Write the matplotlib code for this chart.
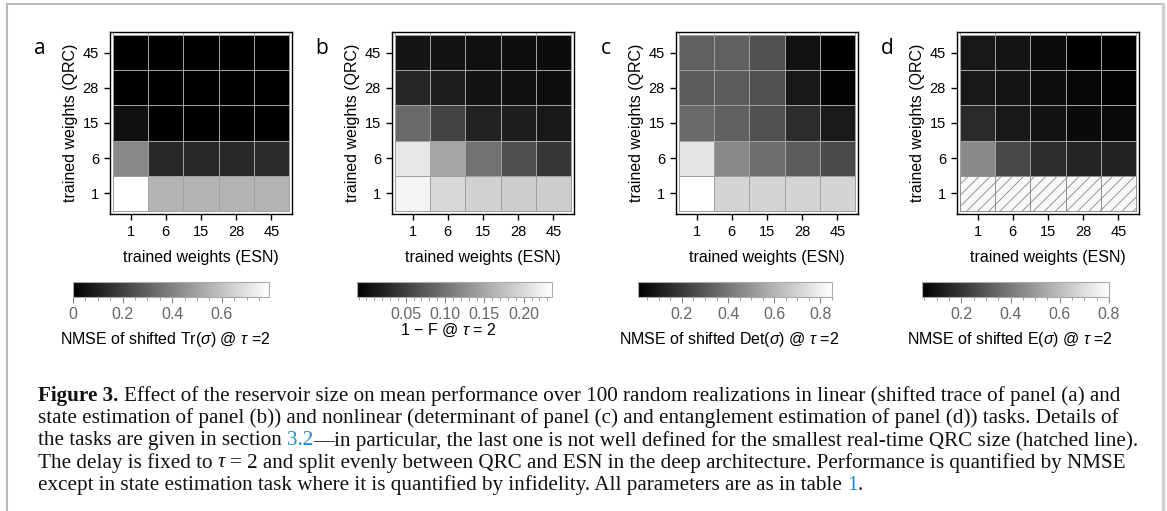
import numpy as np
import matplotlib.pyplot as plt
from matplotlib.patches import Rectangle
from matplotlib.lines import Line2D
from matplotlib.ticker import MultipleLocator

plt.rcParams['font.family'] = ['Liberation Sans', 'DejaVu Sans']
plt.rcParams['mathtext.fontset'] = 'custom'
plt.rcParams['mathtext.rm'] = 'Liberation Sans'
plt.rcParams['mathtext.it'] = 'Liberation Sans:italic'
plt.rcParams['hatch.linewidth'] = 0.6

W, H = 1167, 511

# reservoir sizes (trained weights), same for QRC (rows) and ESN (columns)
sizes = [1, 6, 15, 28, 45]

# rows: QRC = 1, 6, 15, 28, 45 (bottom to top); columns: ESN = 1 ... 45
trace_nmse = [
    [0.79, 0.558, 0.558, 0.558, 0.558],
    [0.42, 0.124, 0.124, 0.124, 0.13],
    [0.05, 0.006, 0.006, 0.006, 0.006],
    [0.005, 0.004, 0.004, 0.004, 0.004],
    [0.004, 0.004, 0.004, 0.003, 0.003],
]
infidelity = [
    [0.225, 0.198, 0.191, 0.187, 0.187],
    [0.212, 0.150, 0.099, 0.065, 0.042],
    [0.090, 0.053, 0.021, 0.018, 0.012],
    [0.025, 0.018, 0.007, 0.004, 0.002],
    [0.009, 0.007, 0.004, 0.002, 0.0],
]
det_nmse = [
    [0.85, 0.708, 0.708, 0.708, 0.708],
    [0.761, 0.458, 0.372, 0.313, 0.254],
    [0.359, 0.326, 0.274, 0.155, 0.096],
    [0.313, 0.313, 0.274, 0.089, 0.023],
    [0.326, 0.326, 0.274, 0.069, 0.01],
]
ent_nmse = [
    [np.nan, np.nan, np.nan, np.nan, np.nan],
    [0.451, 0.255, 0.171, 0.147, 0.141],
    [0.165, 0.112, 0.094, 0.070, 0.064],
    [0.112, 0.100, 0.082, 0.058, 0.046],
    [0.112, 0.100, 0.076, 0.04, 0.04],
]

panel_data = [trace_nmse, infidelity, det_nmse, ent_nmse]
panel_letters = ['a', 'b', 'c', 'd']
cbar_range = [(0.0, 0.79), (-0.012, 0.236), (0.01, 0.85), (0.04, 0.80)]
cbar_ticks = [[0, 0.2, 0.4, 0.6], [0.05, 0.10, 0.15, 0.20],
              [0.2, 0.4, 0.6, 0.8], [0.2, 0.4, 0.6, 0.8]]
cbar_ticklabels = [['0', '0.2', '0.4', '0.6'], ['0.05', '0.10', '0.15', '0.20'],
                   ['0.2', '0.4', '0.6', '0.8'], ['0.2', '0.4', '0.6', '0.8']]
cbar_minor = [0.05, 0.01, 0.05, 0.05]
cbar_labels = [r'NMSE of shifted Tr($\sigma$) @ $\tau$ =2',
               r'1 − F @ $\tau$ = 2',
               r'NMSE of shifted Det($\sigma$) @ $\tau$ =2',
               r'NMSE of shifted E($\sigma$) @ $\tau$ =2']

# layout in pixels
ax_left = [110, 392, 676, 957]
ax_top, ax_size = 32, 182
cb_left = [73, 357, 638, 922]
cb_right = [269, 552, 832, 1109]
cb_top, cb_bot = 282, 297
cb_label_y = [339, 330, 339, 339]


def px_rect(x0, y0, x1, y1):
    return [x0 / W, 1 - y1 / H, (x1 - x0) / W, (y1 - y0) / H]


fig = plt.figure(figsize=(W / 100, H / 100), dpi=100)

for i in range(4):
    ax = fig.add_axes(px_rect(ax_left[i], ax_top, ax_left[i] + ax_size, ax_top + ax_size))
    z = np.array(panel_data[i], dtype=float)
    n = len(sizes)
    edges = np.arange(n + 1) - 0.5
    vmin, vmax = cbar_range[i]
    mesh = ax.pcolormesh(edges, edges, np.ma.masked_invalid(z), cmap='gray',
                         vmin=vmin, vmax=vmax, edgecolors='#a0a0a0', linewidth=0.6)
    for r, c in zip(*np.where(np.isnan(z))):
        ax.add_patch(Rectangle((c - 0.5, r - 0.5), 1, 1, facecolor='#f8f8f8',
                               edgecolor='#888888', hatch='///', lw=0.6))
    pad = 0.085
    ax.set_xlim(-0.5 - pad, n - 0.5 + pad)
    ax.set_ylim(-0.5 - pad, n - 0.5 + pad)
    ax.vlines(edges, n - 0.5, n - 0.5 + pad, colors='#a0a0a0', lw=0.6)
    ax.set_xticks(range(n), [str(s) for s in sizes])
    ax.set_yticks(range(n), [str(s) for s in sizes])
    ax.tick_params(direction='out', length=4, width=1, labelsize=10.5, pad=4,
                   top=False, right=False)
    for sp in ax.spines.values():
        sp.set_linewidth(1.0)
    ax.set_xlabel('trained weights (ESN)', fontsize=11.5, labelpad=8)
    ax.set_ylabel('trained weights (QRC)', fontsize=11.5, labelpad=3)

    fig.text((ax_left[i] - 70) / W, 1 - 49 / H, panel_letters[i], fontsize=15,
             family='Open Sans', ha='center', va='center')

    cax = fig.add_axes(px_rect(cb_left[i], cb_top, cb_right[i], cb_bot))
    cb = fig.colorbar(mesh, cax=cax, orientation='horizontal')
    cb.outline.set_edgecolor('#aaaaaa')
    cb.outline.set_linewidth(0.8)
    cb.set_ticks(cbar_ticks[i], labels=cbar_ticklabels[i])
    cax.xaxis.set_minor_locator(MultipleLocator(cbar_minor[i]))
    cax.tick_params(which='major', length=4, width=0.8, color='#888888',
                    labelcolor='#666666', labelsize=11.5, pad=3)
    cax.tick_params(which='minor', length=2, width=0.6, color='#888888')
    fig.text((cb_left[i] + cb_right[i]) / 2 / W - 6 / W, 1 - cb_label_y[i] / H,
             cbar_labels[i], fontsize=11.5, ha='center', va='center')

# frame around figure + caption
fig.add_artist(Line2D([7 / W, 1163 / W], [1 - 4 / H, 1 - 4 / H], transform=fig.transFigure,
                      color='#b0b0b0', lw=1.2))
fig.add_artist(Line2D([7 / W, 7 / W], [1 - 4 / H, 0], transform=fig.transFigure,
                      color='#b8b8b8', lw=1.5))
fig.add_artist(Line2D([1163 / W, 1163 / W], [1 - 4 / H, 0], transform=fig.transFigure,
                      color='#d0d0d0', lw=2.5))

link = '#1f8ac9'
caption = [
    [('Figure 3.', {'weight': 'bold'}),
     (' Effect of the reservoir size on mean performance over 100 random realizations in linear (shifted trace of panel (a) and', {})],
    [('state estimation of panel (b)) and nonlinear (determinant of panel (c) and entanglement estimation of panel (d)) tasks. Details of', {})],
    [('the tasks are given in section ', {}), ('3.2', {'color': link}),
     ('—in particular, the last one is not well defined for the smallest real-time QRC size (hatched line).', {})],
    [('The delay is fixed to ', {}), ('τ', {'style': 'italic'}),
     (' = 2 and split evenly between QRC and ESN in the deep architecture. Performance is quantified by NMSE', {})],
    [('except in state estimation task where it is quantified by infidelity. All parameters are as in table ', {}),
     ('1', {'color': link}), ('.', {})],
]
cap_fs = 15.2
cap_x0, cap_y0, cap_dy = 38, 396, 22.3

renderer = fig.canvas.get_renderer()
probe = fig.text(0, 0, 'a a', fontsize=cap_fs, family='Liberation Serif')
w1 = probe.get_window_extent(renderer).width
probe.set_text('aa')
space_w = w1 - probe.get_window_extent(renderer).width
probe.remove()

for k, line in enumerate(caption):
    x = cap_x0
    y = 1 - (cap_y0 + k * cap_dy) / H
    for txt, kw in line:
        lead = len(txt) - len(txt.lstrip(' '))
        trail = len(txt) - len(txt.rstrip(' '))
        x += lead * space_w
        body = txt.strip(' ')
        t = fig.text(x / W, y, body, fontsize=cap_fs, family='Liberation Serif',
                     va='center', ha='left', color=kw.get('color', '#111111'),
                     weight=kw.get('weight', 'normal'), style=kw.get('style', 'normal'))
        x += t.get_window_extent(renderer).width + trail * space_w

fig.savefig('out.png', dpi=100)
